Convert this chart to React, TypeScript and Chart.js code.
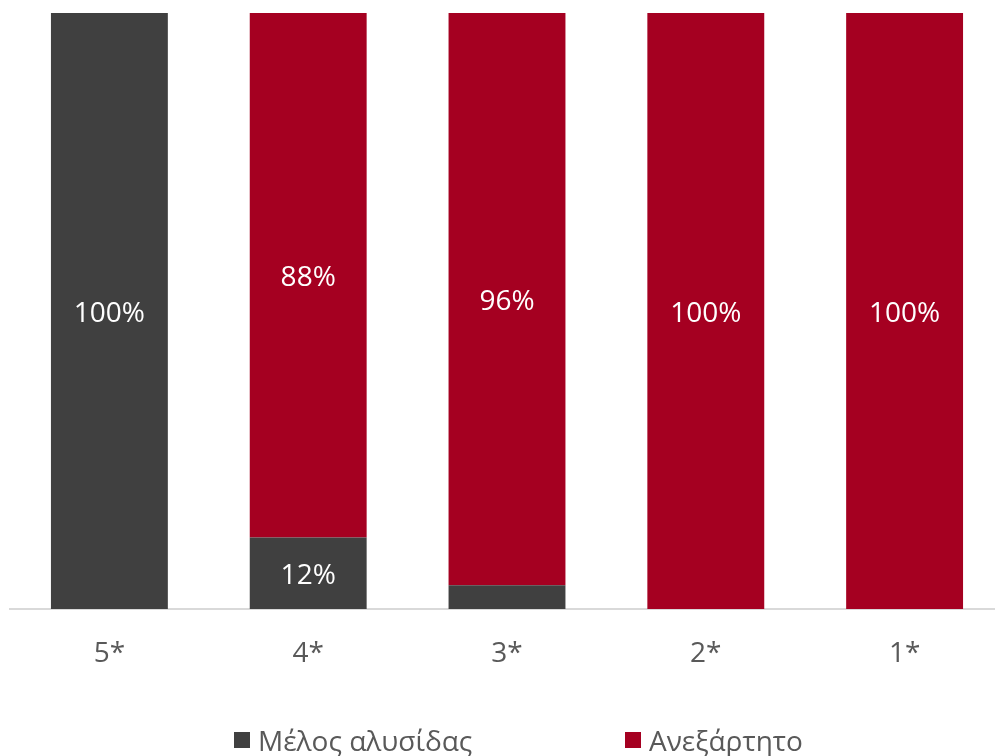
import React, { useEffect, useRef } from "react";
import { Chart, registerables } from "chart.js";

Chart.register(...registerables);

const categories = ["5*", "4*", "3*", "2*", "1*"];
const chainMember = [100, 12, 4, 0, 0];
const independent = [0, 88, 96, 100, 100];
const seriesNames = ["Μέλος αλυσίδας", "Ανεξάρτητο"];
const seriesColors = ["#404040", "#A50021"];

const FONT = "'Open Sans', sans-serif";
const FONT_SIZE = 28;

const dataLabelPlugin = {
  id: "dataLabels",
  afterDatasetsDraw(chart: any) {
    const ctx = chart.ctx;
    ctx.save();
    ctx.font = `${FONT_SIZE}px ${FONT}`;
    ctx.fillStyle = "#ffffff";
    ctx.textAlign = "center";
    ctx.textBaseline = "middle";
    chart.data.datasets.forEach((ds: any, di: number) => {
      const meta = chart.getDatasetMeta(di);
      meta.data.forEach((el: any, i: number) => {
        const v = ds.data[i];
        if (v < 10) return;
        const y = (el.y + el.base) / 2 + 3;
        ctx.fillText(`${v}%`, el.x, y);
      });
    });
    ctx.restore();
  },
};

export default function App() {
  const ref = useRef<HTMLCanvasElement>(null);
  useEffect(() => {
    if (!ref.current) return;
    const chart = new Chart(ref.current, {
      type: "bar",
      data: {
        labels: categories,
        datasets: [
          {
            label: seriesNames[0],
            data: chainMember,
            backgroundColor: seriesColors[0],
            barPercentage: 0.588,
            categoryPercentage: 1,
          },
          {
            label: seriesNames[1],
            data: independent,
            backgroundColor: seriesColors[1],
            barPercentage: 0.588,
            categoryPercentage: 1,
          },
        ],
      },
      options: {
        responsive: false,
        animation: false,
        layout: { padding: { left: 10, right: 0, top: 13, bottom: 0 } },
        plugins: { legend: { display: false }, tooltip: { enabled: false } },
        scales: {
          x: {
            stacked: true,
            grid: { display: false, drawTicks: false },
            border: { display: true, color: "#d9d9d9", width: 2 },
            ticks: {
              color: "#595959",
              font: { family: FONT, size: FONT_SIZE },
              padding: 28,
            },
            afterFit: (scale: any) => {
              scale.height = 756 - 609;
            },
          },
          y: {
            stacked: true,
            display: false,
            min: 0,
            max: 100,
          },
        },
      },
      plugins: [dataLabelPlugin],
    });
    return () => chart.destroy();
  }, []);

  const legendItem = (i: number, left: number) => (
    <div
      style={{
        position: "absolute",
        left,
        top: 740,
        transform: "translateY(-50%)",
        display: "flex",
        alignItems: "center",
        fontFamily: FONT,
        fontSize: FONT_SIZE,
        color: "#595959",
        whiteSpace: "nowrap",
        lineHeight: 1,
      }}
    >
      <span
        style={{
          display: "inline-block",
          width: 16,
          height: 16,
          background: seriesColors[i],
          marginRight: 8,
        }}
      />
      <span>{seriesNames[i]}</span>
    </div>
  );

  return (
    <div
      style={{
        position: "fixed",
        left: 0,
        top: 0,
        width: 995,
        height: 756,
        overflow: "hidden",
        background: "#ffffff",
      }}
    >
      <canvas ref={ref} width={1004} height={756} style={{ display: "block" }} />
      {legendItem(0, 234)}
      {legendItem(1, 625)}
    </div>
  );
}
